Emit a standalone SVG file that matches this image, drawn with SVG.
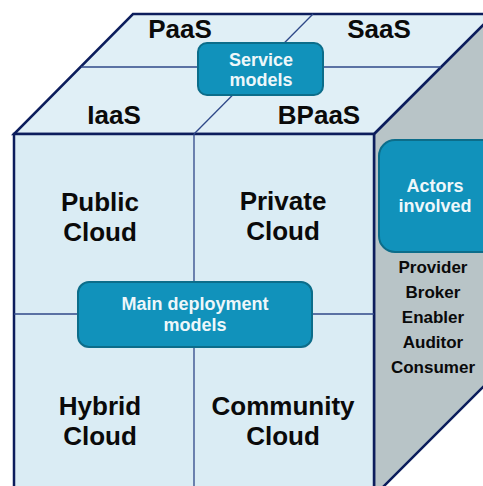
<svg xmlns="http://www.w3.org/2000/svg" width="483" height="486" viewBox="0 0 483 486">
<style>
.edge{stroke:#0c1d5c;stroke-width:2.5;stroke-linejoin:miter}
.div{stroke:#2f4888;stroke-width:1.3;fill:none}
.lbl{font-family:"Liberation Sans",Arial,sans-serif;font-weight:bold;fill:#0a0a0a;text-anchor:middle}
.big{font-size:26px}
.act{font-size:17px}
.box{fill:#1192bb;stroke:#0c6d8a;stroke-width:2}
.btxt{font-family:"Liberation Sans",Arial,sans-serif;font-weight:bold;fill:#eef7fa;text-anchor:middle;font-size:18px}
</style>
<rect width="483" height="486" fill="#ffffff"/>
<g id="cube">
<polygon id="right-face" class="edge" fill="#b8c4c7" points="374,134 494,14 494,376 374,496"/>
<polygon id="top-face" class="edge" fill="#e0eff6" points="14,134 374,134 494,14 133,14"/>
<rect id="front-face" class="edge" fill="#daecf4" x="14" y="134" width="360" height="362"/>
</g>
<g id="dividers">
<line class="div" x1="81" y1="67" x2="441" y2="67"/>
<line class="div" x1="194" y1="134" x2="313" y2="14"/>
<line class="div" x1="194" y1="134" x2="194" y2="496"/>
<line class="div" x1="14" y1="314" x2="374" y2="314"/>
</g>
<g id="service-labels">
<text class="lbl big" x="180" y="38">PaaS</text>
<text class="lbl big" x="379" y="38">SaaS</text>
<text class="lbl big" x="114" y="124">IaaS</text>
<text class="lbl big" x="319" y="124">BPaaS</text>
</g>
<g id="service-models">
<rect class="box" x="198" y="43" width="125" height="52" rx="9"/>
<text class="btxt" x="261" y="66">Service</text>
<text class="btxt" x="261" y="86">models</text>
</g>
<g id="public-cloud"><text class="lbl big" x="100" y="211">Public</text><text class="lbl big" x="100" y="241">Cloud</text></g>
<g id="private-cloud"><text class="lbl big" x="283" y="210">Private</text><text class="lbl big" x="283" y="240">Cloud</text></g>
<g id="hybrid-cloud"><text class="lbl big" x="100" y="415">Hybrid</text><text class="lbl big" x="100" y="445">Cloud</text></g>
<g id="community-cloud"><text class="lbl big" x="283" y="415">Community</text><text class="lbl big" x="283" y="445">Cloud</text></g>
<g id="main-deployment">
<rect class="box" x="78" y="282" width="234" height="65" rx="11"/>
<text class="btxt" x="195" y="310">Main deployment</text>
<text class="btxt" x="195" y="331">models</text>
</g>
<g id="actors-involved">
<rect class="box" x="379" y="140" width="118" height="112" rx="16"/>
<text class="btxt" x="435" y="192">Actors</text>
<text class="btxt" x="435" y="212">involved</text>
</g>
<g id="actors-list">
<text class="lbl act" x="433" y="273">Provider</text>
<text class="lbl act" x="433" y="298">Broker</text>
<text class="lbl act" x="433" y="323">Enabler</text>
<text class="lbl act" x="433" y="348">Auditor</text>
<text class="lbl act" x="433" y="373">Consumer</text>
</g>
</svg>
